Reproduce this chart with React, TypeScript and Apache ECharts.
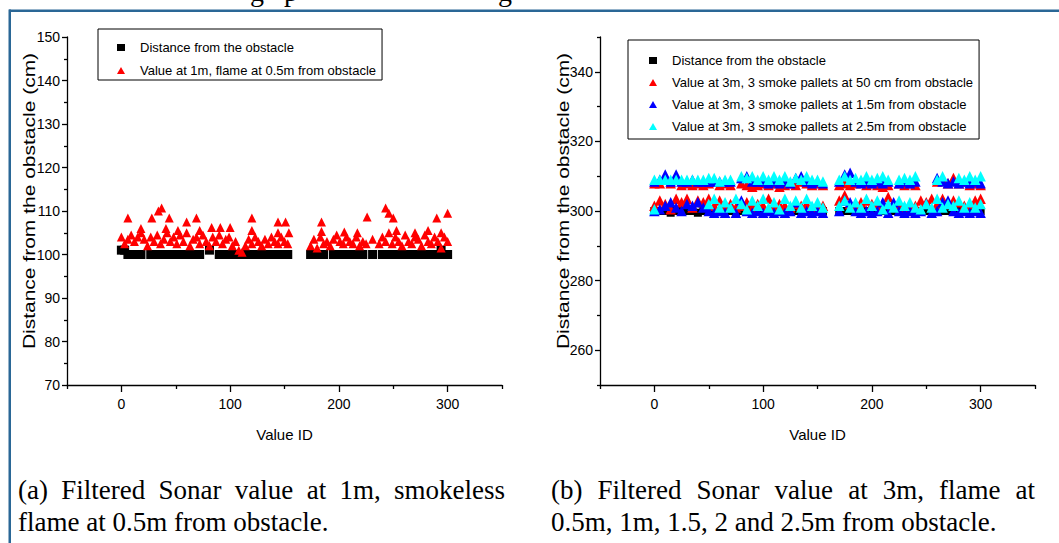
import React, { useEffect, useRef } from "react";
import * as echarts from "echarts";

const SANS = "'Liberation Sans Narrow', 'Arial Narrow', 'Liberation Sans', sans-serif";
const SANS_WIDE = "'Liberation Sans', Arial, sans-serif";
const SERIF = "'Liberation Serif', 'Times New Roman', serif";

const X_TICK_LABELS = [0, 100, 200, 300];
const X_MINOR_TICKS = [-50, 50, 150, 250, 350];
const RIGHT_Y_LABELS = [260, 280, 300, 320, 340];
const RIGHT_Y_MINOR = [250, 270, 290, 310, 330, 350];

const NAME_DIST = "Distance from the obstacle";
const NAME_FLAME = "Value at 1m, flame at 0.5m from obstacle";
const NAME_50CM = "Value at 3m, 3 smoke pallets at 50 cm from obstacle";
const NAME_15M = "Value at 3m, 3 smoke pallets at 1.5m from obstacle";
const NAME_25M = "Value at 3m, 3 smoke pallets at 2.5m from obstacle";
const Y_TITLE = "Distance from the obstacle (cm)";
const X_TITLE = "Value ID";

const CAPTION_A = ["(a) Filtered Sonar value at 1m, smokeless", "flame at 0.5m from obstacle."];
const CAPTION_B = ["(b) Filtered Sonar value at 3m, flame at", "0.5m, 1m, 1.5, 2 and 2.5m from obstacle."];

// ---- left panel (sonar at 1m) ----
const LEFT_IDS = [
  0, 3, 6, 9, 12, 15, 18, 21, 24, 27, 30, 33, 36, 39, 42, 45, 48, 51, 54, 57,
  60, 63, 66, 69, 72, 75, 78, 81, 84, 87, 90, 93, 96, 99, 102, 105, 108, 111, 114, 117,
  120, 123, 126, 129, 132, 135, 138, 141, 144, 147, 150, 153, 156, 159, 162, 165, 168, 171, 174, 177,
  180, 183, 186, 189, 192, 195, 198, 201, 204, 207, 210, 213, 216, 219, 222, 225, 228, 231, 234, 237,
  240, 243, 246, 249, 252, 255, 258, 261, 264, 267, 270, 273, 276, 279, 282, 285, 288, 291, 294, 297,
  300,
];
const LEFT_DIST: (number | null)[] = [
  101, 101, 100, 100, 100, 100, 100, null, null,
  100, 100, 100, 100, 100, 100, 100, 100, 100, 100, 100, 100, 100, 100, 100, 100,
  null, null, 101, null, null,
  100, 100, 100, 100, 100, 100, 100, 100, 100, 100, 100, 100, 100, 100, 100, 100, 100, 100, 100, 100, 100, 100,
  null, null, null, null, null, null,
  100, 100, 100, 100, 100,
  null, null,
  100, 100, 100, 100, 100, 100, 100, 100, 100, 100,
  null, null, 100, null, null,
  100, 100, 100, 100, 100, 100, 100, 100, 100, 100, 100, 100, 100, 100, 100, 100, 100, 100,
  101, 100, 100,
];
const LEFT_FLAME: (number | null)[] = [
  104, 102.5, 103.5, 104.5, 103, 104, 105, 103.5, 102, 104,
  103, 104.5, 102.5, 103.5, 105, 103, 104, 102.5, 104.5, 103,
  105, 102, 103.5, 104, 102.5, 104.5, 103, 102, 104, 103,
  104.5, 102.5, 103.5, 104, 102, 103, 101, 100.5, 102, 103.5,
  102.5, 104, 103, 102, 103.5, 102.5, 104, 103, 102.5, 104,
  103, 102.5, null, null, null, null, null, null, 102, 103.5,
  101.5, 104, 102.5, 103, 102, 103.5, 104.5, 103, 102.5, 104,
  103, 102.5, 104, 102, 103, 102.5, null, 103.5, null, 102.5,
  104, 103, 105, 102.5, 104, 103, 102, 104.5, 103, 102.5,
  104, 103.5, 102, 104.5, 103, 102.5, 104, 103, 101.5, 104, 103,
];
const LEFT_FLAME_HIGH: [number, number][] = [
  [6, 108.4], [18, 106], [28, 108.4], [34, 110], [37, 110.7], [41, 106], [44, 108.4], [52, 105.5],
  [60, 107.5], [69, 108.4], [72, 105.5], [83, 106.2], [91, 106.2], [100, 106.2], [120, 108.4],
  [120, 105.5], [144, 107.5], [144, 105], [151, 107.5], [154, 105], [184, 107.5], [184, 105.3],
  [205, 105.2], [217, 105], [226, 108.6], [243, 110.7], [246, 109.5], [250, 108.4], [253, 105.5],
  [270, 105], [282, 105.5], [290, 108.4], [294, 105], [300, 109.5],
];

// ---- right panel (sonar at 3m) ----
const RIGHT_IDS = [
  0, 5, 10, 15, 20, 25, 30, 35, 40, 45, 50, 55, 60, 65, 70, 75, 80, 85, 90, 95,
  100, 105, 110, 115, 120, 125, 130, 135, 140, 145, 150, 155, 160, 165, 170, 175, 180, 185, 190, 195,
  200, 205, 210, 215, 220, 225, 230, 235, 240, 245, 250, 255, 260, 265, 270, 275, 280, 285, 290, 295,
  300,
];
const DIST_3M: (number | null)[] = [
  300, 300, 300, 299.5, 300, 300, 300, 300, 299.5, 300, 300, 300, 300, 300, 300, 299.5, 300, 300, 300, 300,
  300, 300, 300, 300, 300, 300, 300, 300, 300, 300, 300, 300, null, null, 300, 300, 300, 300, 300, 300,
  300, 300, 300, 300, 300, 300, 300, 300, 300, 300, 300, 300, 300, 300, 300, 300, 300, 300, 300, 300,
  300,
];
const SMOKE_50CM_HI: (number | null)[] = [
  308, 308, 310, 308, 310, 307.5, 308, 307.5, 308, 307.5,
  308, 308.5, 307.5, 308, 307.5, null, 308, 307.5, 307, 307.5,
  308, 307.5, 308, 307, 307.5, 308, 307.5, 308.5, 308, 307.5,
  308, 307.5, null, null, 307.5, 308, 307.5, 308, 308.5, 307.5,
  308, 307.5, 307, 307.5, null, 308, 307.5, 308, 307.5, null,
  null, null, 308.5, 309.5, 308, 309.5, 308, 308.5, 307.5, 308,
  307.5,
];
const SMOKE_50CM_LO: (number | null)[] = [
  301.5, 303, 302, 300.5, 303.5, 302.5, 303.5, 301, 303, 302.5,
  303.5, 301.5, 303, 301.5, 302, 301, 301.5, 302.5, 301, 302,
  301.5, 303.5, 301, 302, 301.5, 301, 302, 301.5, 302, 301,
  302, 301.5, null, null, 303, 304.5, 302, 301.5, 302.5, 303,
  302, 301.5, 302, 304, 301.5, 302, 301, 302, 301.5, 303,
  302.5, 303.5, 302, 303.5, 302, 303, 302.5, 301.5, 302, 303,
  303.5,
];
const SMOKE_15M_HI: (number | null)[] = [
  308.5, 309, 310.5, 308.5, 310.5, 308.5, 308.5, 309, 308.5, 308.5,
  308.5, 308.5, 308.5, 308.5, 308.5, null, 309.5, 310, 308.5, 308.5,
  308.5, 308, 308.5, 308, 308.5, 308, 309.5, 310, 308.5, 308,
  308.5, 308, null, null, 308.5, 310.5, 311, 308.5, 308, 308.5,
  308, 308.5, 308, 308.5, null, 308, 308.5, 308, 308.5, null,
  null, null, 309.5, 308.5, 308, 308.5, 308, 308.5, 308, 308.5,
  308,
];
const SMOKE_15M_LO: (number | null)[] = [
  300, 300.5, 301.5, 302.5, 301, 300, 302, 301.5, 302.5, 301,
  300, 299.5, 300, 299.5, 301, 299.5, 303, 300, 299.5, 300,
  299.5, 300, 299.5, 300, 299.5, 300, 302.5, 299.5, 300, 299.5,
  300, 299.5, null, null, 300, 303, 302.5, 300, 299.5, 300,
  299.5, 300, 302.5, 299.5, 302.5, 300, 299.5, 300, 299.5, 300,
  302, 299.5, 300, 302.5, 303, 300, 299.5, 300, 299.5, 300,
  299.5,
];
const SMOKE_25M_HI: (number | null)[] = [
  309, 309, 309, 309, 309, 309, 309, 309, 309, 309,
  309.5, 309.5, 308.5, 309, 309, null, 310, 309.5, 310, 309,
  310, 309, 310, 309, 310, 308.5, 309.5, 309, 310, 309,
  309, 308.5, null, null, 309, 310, 309, 309.5, 309, 310,
  309, 309.5, 310, 309, null, 309, 309.5, 309, 310, null,
  null, null, 309, 310, null, null, 309.5, 309, 310, 309,
  310,
];
const SMOKE_25M_LO: (number | null)[] = [
  300.5, null, null, null, null, null, null, null, null, null,
  302, 303.5, 301, 302.5, 301, 303.5, 302, 300.5, 303, 301.5,
  303.5, 301, 302.5, 300.5, 303.5, 301.5, 303, 301, 303.5, 301.5,
  302.5, 301, null, null, 301.5, 303, 301, 302.5, 301, 303.5,
  301.5, 303, 300.5, 302, 301, 303, 301.5, 302.5, 301, 300.5,
  302, 301, 303.5, 301, 302, 301.5, 303, 301, 302.5, 301,
  302,
];

function pairs(ids: number[], vals: (number | null)[]): [number, number][] {
  const out: [number, number][] = [];
  ids.forEach((id, i) => {
    const v = vals[i];
    if (v !== null && v !== undefined) out.push([id, v]);
  });
  return out;
}

const CAP_SIZE = 27;

function captionLines(lines: string[], x0: number, x1: number, ys: number[]) {
  const canvas = document.createElement("canvas");
  const ctx = canvas.getContext("2d")!;
  ctx.font = `${CAP_SIZE}px ${SERIF}`;
  const els: any[] = [];
  lines.forEach((line, li) => {
    const y = ys[li];
    if (li < lines.length - 1) {
      const words = line.split(" ");
      const widths = words.map((w) => ctx.measureText(w).width);
      const total = widths.reduce((a, b) => a + b, 0);
      const gap = (x1 - x0 - total) / (words.length - 1);
      let x = x0;
      words.forEach((w, wi) => {
        els.push({
          type: "text", x, y, silent: true,
          style: { text: w, fontFamily: SERIF, fontSize: CAP_SIZE, fill: "#000", align: "left", verticalAlign: "middle" },
        });
        x += widths[wi] + gap;
      });
    } else {
      els.push({
        type: "text", x: x0, y, silent: true,
        style: { text: line, fontFamily: SERIF, fontSize: CAP_SIZE, fill: "#000", align: "left", verticalAlign: "middle" },
      });
    }
  });
  return els;
}

const tickLine = { color: "#000", width: 1.3 };

function xAxes(grid: number) {
  return [
    {
      gridIndex: grid, type: "value", min: -50, max: 350, position: "bottom",
      axisLine: { show: true, onZero: false, lineStyle: tickLine },
      axisTick: { show: true, inside: false, length: 7, lineStyle: tickLine, customValues: X_TICK_LABELS },
      axisLabel: { show: true, customValues: X_TICK_LABELS, color: "#000", fontFamily: SANS, fontSize: 14, margin: 12 },
      splitLine: { show: false },
      name: X_TITLE, nameLocation: "middle", nameGap: 42,
      nameTextStyle: { fontFamily: SANS, fontSize: 15, color: "#000" },
    },
    {
      gridIndex: grid, type: "value", min: -50, max: 350, position: "bottom", offset: 0,
      axisLine: { show: false, onZero: false },
      axisTick: { show: true, inside: false, length: 4, lineStyle: tickLine, customValues: X_MINOR_TICKS },
      axisLabel: { show: false },
      splitLine: { show: false },
    },
  ];
}

export default function App() {
  const ref = useRef<HTMLDivElement>(null);
  useEffect(() => {
    if (!ref.current) return;
    const chart = echarts.init(ref.current, undefined, { renderer: "svg" });

    const graphics: any[] = [
      { type: "rect", silent: true, shape: { x: 9, y: 9.5, width: 1050, height: 2.5 }, style: { fill: "#2a6796" } },
      { type: "rect", silent: true, shape: { x: 8.5, y: 9.5, width: 2.5, height: 540 }, style: { fill: "#2a6796" } },
      { type: "text", x: 250, y: -9, silent: true, style: { text: "g", fontFamily: SERIF, fontSize: 28, fill: "#000", verticalAlign: "middle" } },
      { type: "text", x: 284, y: -9, silent: true, style: { text: "p", fontFamily: SERIF, fontSize: 28, fill: "#000", verticalAlign: "middle" } },
      { type: "text", x: 498, y: -9, silent: true, style: { text: "g", fontFamily: SERIF, fontSize: 28, fill: "#000", verticalAlign: "middle" } },
      {
        type: "text", x: 29, y: 201, rotation: Math.PI / 2, scaleY: 0.75, silent: true,
        style: { text: Y_TITLE, fontFamily: SANS_WIDE, fontSize: 21, fill: "#000", align: "center", verticalAlign: "middle" },
      },
      {
        type: "text", x: 563, y: 201, rotation: Math.PI / 2, scaleY: 0.75, silent: true,
        style: { text: Y_TITLE, fontFamily: SANS_WIDE, fontSize: 21, fill: "#000", align: "center", verticalAlign: "middle" },
      },
      ...captionLines(CAPTION_A, 18, 505, [490, 522]),
      ...captionLines(CAPTION_B, 551, 1035, [490, 522]),
    ];

    const legendText = { fontFamily: SANS, fontSize: 13, color: "#000", padding: [0, 0, 0, 10] };
    const solid = (color: string) => ({ color, opacity: 1 });

    chart.setOption({
      animation: false,
      backgroundColor: "#fff",
      grid: [
        { left: 67, top: 37, width: 435, height: 348, containLabel: false },
        { left: 600, top: 37, width: 435, height: 348, containLabel: false },
      ],
      legend: [
        {
          left: 98, top: 29, orient: "vertical", itemWidth: 8, itemHeight: 7, itemGap: 10,
          padding: [12, 6, 3, 19], borderColor: "#000", borderWidth: 1, selectedMode: false,
          textStyle: legendText,
          data: [{ name: NAME_DIST, icon: "rect" }, { name: NAME_FLAME, icon: "triangle" }],
        },
        {
          left: 628, top: 40, orient: "vertical", itemWidth: 8, itemHeight: 7, itemGap: 9,
          padding: [14, 6, 6, 21], borderColor: "#000", borderWidth: 1, selectedMode: false,
          textStyle: legendText,
          data: [
            { name: NAME_DIST, icon: "rect" },
            { name: NAME_50CM, icon: "triangle" },
            { name: NAME_15M, icon: "triangle" },
            { name: NAME_25M, icon: "triangle" },
          ],
        },
      ],
      xAxis: [...xAxes(0), ...xAxes(1)],
      yAxis: [
        {
          gridIndex: 0, type: "value", min: 70, max: 150, interval: 10, position: "left",
          axisLine: { show: true, onZero: false, lineStyle: tickLine },
          axisTick: { show: true, inside: false, length: 5, lineStyle: tickLine },
          minorTick: { show: true, splitNumber: 2, length: 3, lineStyle: tickLine },
          axisLabel: { color: "#000", fontFamily: SANS, fontSize: 14, margin: 7 },
          splitLine: { show: false }, minorSplitLine: { show: false },
        },
        {
          gridIndex: 1, type: "value", min: 250, max: 350, position: "left",
          axisLine: { show: true, onZero: false, lineStyle: tickLine },
          axisTick: { show: true, inside: false, length: 5, lineStyle: tickLine, customValues: RIGHT_Y_LABELS },
          axisLabel: { show: true, customValues: RIGHT_Y_LABELS, color: "#000", fontFamily: SANS, fontSize: 14, margin: 7 },
          splitLine: { show: false },
        },
        {
          gridIndex: 1, type: "value", min: 250, max: 350, position: "left", offset: 0,
          axisLine: { show: false, onZero: false },
          axisTick: { show: true, inside: false, length: 3, lineStyle: tickLine, customValues: RIGHT_Y_MINOR },
          axisLabel: { show: false },
          splitLine: { show: false },
        },
      ],
      graphic: graphics,
      series: [
        {
          type: "scatter", name: NAME_DIST, xAxisIndex: 0, yAxisIndex: 0, symbol: "rect", symbolSize: 9,
          itemStyle: solid("#000000"), data: pairs(LEFT_IDS, LEFT_DIST),
        },
        {
          type: "scatter", name: NAME_FLAME, xAxisIndex: 0, yAxisIndex: 0, symbol: "triangle", symbolSize: 9,
          itemStyle: solid("#ff0000"), data: [...pairs(LEFT_IDS, LEFT_FLAME), ...LEFT_FLAME_HIGH],
        },
        {
          type: "scatter", name: NAME_DIST, xAxisIndex: 2, yAxisIndex: 1, symbol: "rect", symbolSize: 8,
          itemStyle: solid("#000000"), data: pairs(RIGHT_IDS, DIST_3M),
        },
        {
          type: "scatter", name: NAME_50CM, xAxisIndex: 2, yAxisIndex: 1, symbol: "triangle", symbolSize: 10.5,
          itemStyle: solid("#ff0000"),
          data: [...pairs(RIGHT_IDS, SMOKE_50CM_HI), ...pairs(RIGHT_IDS, SMOKE_50CM_LO)],
        },
        {
          type: "scatter", name: NAME_15M, xAxisIndex: 2, yAxisIndex: 1, symbol: "triangle", symbolSize: 10.5,
          itemStyle: solid("#0000ff"),
          data: [...pairs(RIGHT_IDS, SMOKE_15M_HI), ...pairs(RIGHT_IDS, SMOKE_15M_LO)],
        },
        {
          type: "scatter", name: NAME_25M, xAxisIndex: 2, yAxisIndex: 1, symbol: "triangle", symbolSize: 10.5,
          itemStyle: solid("#00ffff"),
          data: [...pairs(RIGHT_IDS, SMOKE_25M_HI), ...pairs(RIGHT_IDS, SMOKE_25M_LO)],
        },
      ],
    });
    return () => chart.dispose();
  }, []);
  return (
    <div
      ref={ref}
      style={{ position: "fixed", left: 0, top: 0, width: 1059, height: 543, background: "#fff" }}
    />
  );
}
